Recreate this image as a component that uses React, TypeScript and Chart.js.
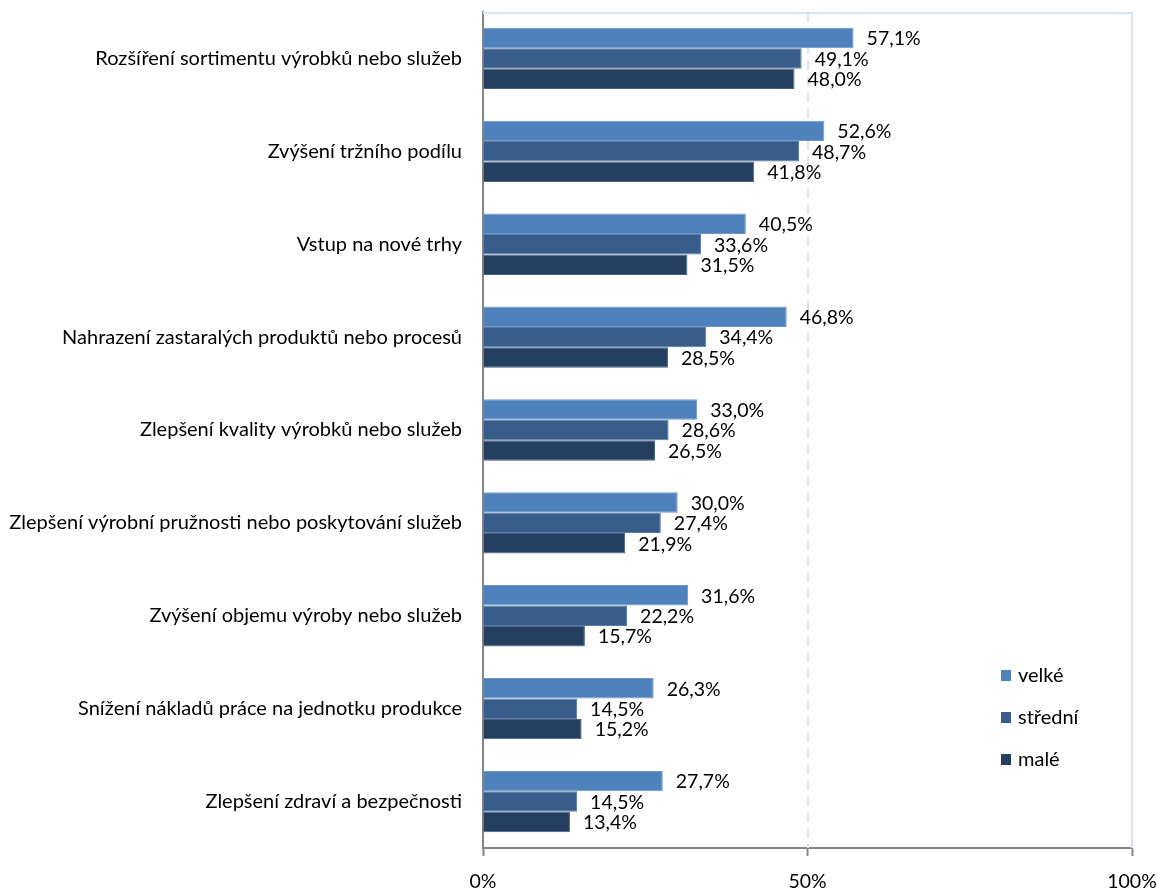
import React, { useEffect, useRef } from "react";
import { Chart, registerables } from "chart.js";

Chart.register(...registerables);

const categories = [
  "Rozšíření sortimentu výrobků nebo služeb",
  "Zvýšení tržního podílu",
  "Vstup na nové trhy",
  "Nahrazení zastaralých produktů nebo procesů",
  "Zlepšení kvality výrobků nebo služeb",
  "Zlepšení výrobní pružnosti nebo poskytování služeb",
  "Zvýšení objemu výroby nebo služeb",
  "Snížení nákladů práce na jednotku produkce",
  "Zlepšení zdraví a bezpečnosti",
];

const seriesNames = ["velké", "střední", "malé"];
const velke = [57.1, 52.6, 40.5, 46.8, 33.0, 30.0, 31.6, 26.3, 27.7];
const stredni = [49.1, 48.7, 33.6, 34.4, 28.6, 27.4, 22.2, 14.5, 14.5];
const male = [48.0, 41.8, 31.5, 28.5, 26.5, 21.9, 15.7, 15.2, 13.4];
const seriesColors = ["#4F81BD", "#385D8A", "#243F60"];
const seriesBorders = ["#6f97c9", "#5a7ba5", "#4a6280"];
const xTicks = [0, 50, 100];

const FONT = "Lato, 'DejaVu Sans', sans-serif";

const fmt = (v: number) => v.toFixed(1).replace(".", ",") + "%";

const dataLabelsPlugin = {
  id: "dataLabels",
  afterDatasetsDraw(chart: any) {
    const ctx = chart.ctx;
    ctx.save();
    ctx.font = `19.5px ${FONT}`;
    ctx.fillStyle = "#000";
    ctx.textAlign = "left";
    ctx.textBaseline = "middle";
    chart.data.datasets.forEach((ds: any, i: number) => {
      const meta = chart.getDatasetMeta(i);
      meta.data.forEach((el: any, j: number) => {
        ctx.fillText(fmt(ds.data[j]), el.x + 13, el.y + 1);
      });
    });
    ctx.restore();
  },
};

const gridPlugin = {
  id: "customGrid",
  beforeDatasetsDraw(chart: any) {
    const ctx = chart.ctx;
    const a = chart.chartArea;
    const xs = chart.scales.x;
    ctx.save();
    ctx.strokeStyle = "#dbe4f1";
    ctx.lineWidth = 2;
    ctx.setLineDash([10, 6]);
    const x50 = Math.round(xs.getPixelForValue(50));
    ctx.beginPath();
    ctx.moveTo(x50, a.top);
    ctx.lineTo(x50, a.bottom);
    ctx.stroke();
    ctx.setLineDash([]);
    const x100 = Math.round(xs.getPixelForValue(100));
    ctx.beginPath();
    ctx.moveTo(a.left, a.top + 1);
    ctx.lineTo(x100, a.top + 1);
    ctx.lineTo(x100, a.bottom);
    ctx.stroke();
    ctx.restore();
  },
};

const legendPlugin = {
  id: "customLegend",
  afterDraw(chart: any) {
    const ctx = chart.ctx;
    const a = chart.chartArea;
    const x0 = a.right - 131;
    const yStart = a.bottom - 172;
    const step = 42;
    ctx.save();
    ctx.font = `20px ${FONT}`;
    ctx.textBaseline = "middle";
    ctx.textAlign = "left";
    chart.data.datasets.forEach((ds: any, i: number) => {
      const y = yStart + i * step;
      ctx.fillStyle = seriesColors[i];
      ctx.fillRect(x0, y - 6, 10, 11);
      ctx.fillStyle = "#000";
      ctx.fillText(ds.label, x0 + 17, y);
    });
    ctx.restore();
  },
};

export default function App() {
  const ref = useRef<HTMLCanvasElement | null>(null);
  useEffect(() => {
    document.body.style.margin = "0";
    if (!ref.current) return;
    const chart = new Chart(ref.current, {
      type: "bar",
      data: {
        labels: categories,
        datasets: [velke, stredni, male].map((d, i) => ({
          label: seriesNames[i],
          data: d,
          backgroundColor: seriesColors[i],
          borderColor: seriesBorders[i],
          borderWidth: 1,
          borderSkipped: "left",
          categoryPercentage: 0.66,
          barPercentage: 1.0,
        })),
      },
      options: {
        indexAxis: "y",
        animation: false,
        responsive: false,
        layout: { padding: { left: 8, top: 12, right: 25, bottom: 0 } },
        plugins: {
          legend: { display: false },
          tooltip: { enabled: false },
        },
        scales: {
          x: {
            type: "linear",
            min: 0,
            max: 100,
            afterBuildTicks: (s: any) => {
              s.ticks = xTicks.map((v) => ({ value: v }));
            },
            ticks: {
              callback: (v: any) => v + "%",
              font: { family: FONT, size: 19.5 },
              color: "#000",
              padding: 14,
              maxRotation: 0,
            },
            grid: {
              drawOnChartArea: false,
              drawTicks: true,
              tickLength: 8,
              tickColor: "#868686",
              tickWidth: 2,
            },
            border: { color: "#868686", width: 2 },
            afterFit: (s: any) => {
              s.height = 42;
              s.paddingLeft = 0;
              s.paddingRight = 0;
            },
          },
          y: {
            type: "category",
            ticks: {
              font: { family: FONT, size: 20 },
              color: "#000",
              padding: 21,
            },
            grid: { display: false, drawTicks: false },
            border: { color: "#868686", width: 2 },
            afterFit: (s: any) => {
              s.width = 475;
              s.paddingTop = 0;
              s.paddingBottom = 0;
            },
          },
        },
      },
      plugins: [gridPlugin, dataLabelsPlugin, legendPlugin],
    } as any);
    return () => chart.destroy();
  }, []);
  return (
    <div style={{ width: 1157, height: 890, overflow: "hidden", background: "#fff" }}>
      <canvas ref={ref} width={1157} height={890} />
    </div>
  );
}
